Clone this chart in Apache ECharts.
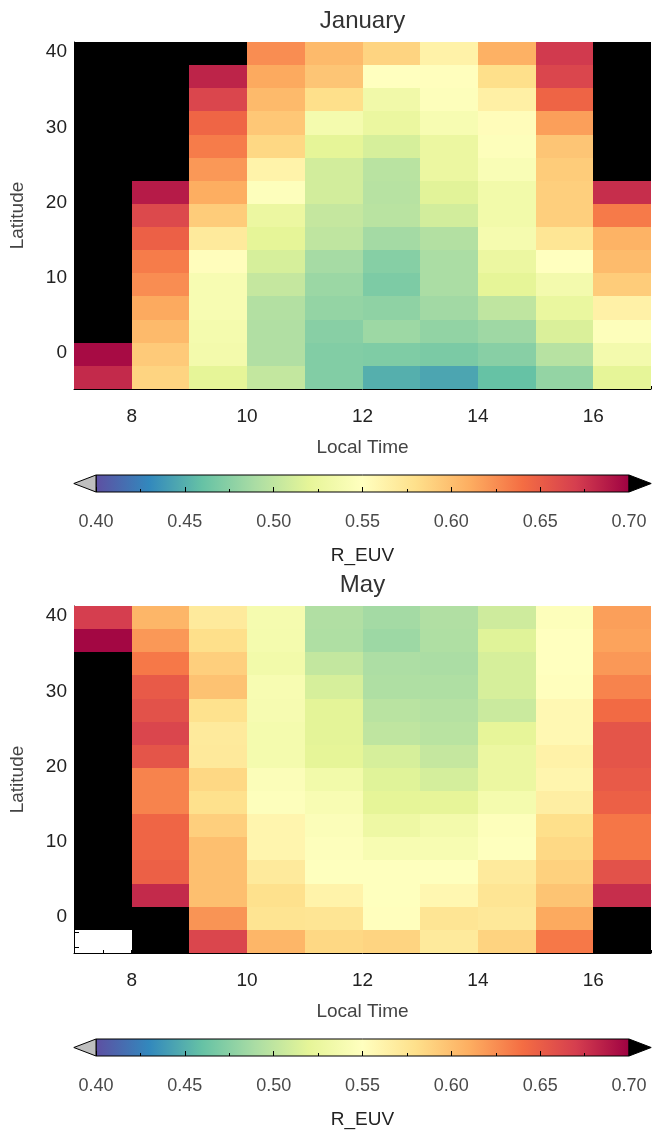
<!DOCTYPE html>
<html>
<head>
<meta charset="utf-8">
<script src="https://cdn.jsdelivr.net/npm/echarts@6/dist/echarts.min.js"></script>
<style>
html,body{margin:0;padding:0;background:#fff;}
#chart{width:652px;height:1130px;}
</style>
</head>
<body>
<div id="chart"></div>
<script>
// ---- data ----
const localTime = [7.5, 8.5, 9.5, 10.5, 11.5, 12.5, 13.5, 14.5, 15.5, 16.5];
// latitude bin centres, top row first
const latitude = [39.81, 36.74, 33.67, 30.59, 27.52, 24.45, 21.37, 18.30, 15.23, 12.16, 9.08, 6.01, 2.94, -0.14, -3.21];
const xTickLabels = [8, 10, 12, 14, 16];
const yTickLabels = [0, 10, 20, 30, 40];
const titles = ['January', 'May'];
const O = 0.75;   // above colour range (drawn black)
const N = null;   // missing (white)
// R_EUV, rows top->bottom, columns local time 7.5..16.5
const janR = [
  [O, O, O, 0.625, 0.603, 0.587, 0.563, 0.608, 0.672, O],
  [O, O, 0.683, 0.612, 0.596, 0.550, 0.551, 0.580, 0.665, O],
  [O, O, 0.665, 0.603, 0.580, 0.533, 0.547, 0.565, 0.646, O],
  [O, O, 0.645, 0.595, 0.537, 0.526, 0.540, 0.553, 0.617, O],
  [O, O, 0.633, 0.585, 0.520, 0.512, 0.527, 0.547, 0.596, O],
  [O, O, 0.620, 0.562, 0.510, 0.497, 0.527, 0.543, 0.592, O],
  [O, 0.687, 0.610, 0.548, 0.510, 0.496, 0.518, 0.534, 0.590, 0.678],
  [O, 0.663, 0.592, 0.527, 0.503, 0.497, 0.510, 0.534, 0.590, 0.634],
  [O, 0.648, 0.570, 0.520, 0.500, 0.487, 0.494, 0.538, 0.574, 0.607],
  [O, 0.633, 0.552, 0.512, 0.488, 0.474, 0.490, 0.527, 0.550, 0.602],
  [O, 0.625, 0.540, 0.503, 0.483, 0.470, 0.490, 0.520, 0.536, 0.592],
  [O, 0.612, 0.540, 0.494, 0.480, 0.478, 0.486, 0.500, 0.525, 0.564],
  [O, 0.603, 0.537, 0.493, 0.475, 0.484, 0.479, 0.485, 0.514, 0.547],
  [0.695, 0.593, 0.535, 0.493, 0.472, 0.471, 0.469, 0.475, 0.496, 0.536],
  [0.680, 0.587, 0.520, 0.502, 0.472, 0.450, 0.445, 0.460, 0.480, 0.520]
];
const mayR = [
  [0.670, 0.605, 0.570, 0.538, 0.493, 0.487, 0.493, 0.508, 0.547, 0.617],
  [0.697, 0.620, 0.580, 0.537, 0.492, 0.484, 0.492, 0.517, 0.550, 0.615],
  [O, 0.635, 0.590, 0.534, 0.502, 0.491, 0.490, 0.512, 0.550, 0.620],
  [O, 0.652, 0.598, 0.540, 0.512, 0.492, 0.492, 0.512, 0.551, 0.630],
  [O, 0.657, 0.578, 0.539, 0.519, 0.497, 0.495, 0.506, 0.557, 0.642],
  [O, 0.665, 0.570, 0.537, 0.519, 0.500, 0.497, 0.521, 0.557, 0.655],
  [O, 0.655, 0.571, 0.537, 0.520, 0.512, 0.503, 0.527, 0.563, 0.655],
  [O, 0.630, 0.585, 0.545, 0.534, 0.517, 0.511, 0.527, 0.560, 0.652],
  [O, 0.630, 0.579, 0.548, 0.541, 0.520, 0.521, 0.537, 0.566, 0.648],
  [O, 0.645, 0.590, 0.560, 0.545, 0.529, 0.535, 0.547, 0.580, 0.636],
  [O, 0.645, 0.600, 0.560, 0.548, 0.540, 0.540, 0.549, 0.584, 0.636],
  [O, 0.648, 0.600, 0.570, 0.549, 0.549, 0.549, 0.570, 0.589, 0.657],
  [O, 0.680, 0.600, 0.579, 0.562, 0.549, 0.558, 0.575, 0.597, 0.678],
  [O, O, 0.622, 0.576, 0.575, 0.551, 0.575, 0.572, 0.612, O],
  [N, O, 0.665, 0.605, 0.585, 0.587, 0.570, 0.588, 0.635, O]
];
const spectralR = ['#5e4fa2', '#3288bd', '#66c2a5', '#abdda4', '#e6f598', '#ffffbf',
                   '#fee08b', '#fdae61', '#f46d43', '#d53e4f', '#9e0142'];
const vMin = 0.40, vMax = 0.70;
const underTip = 0.3875, overTip = 0.7125;

// ---- build ----
const FONT = 'Liberation Sans';
function cells(mat) {
  const out = [];
  mat.forEach((row, i) => row.forEach((v, j) => {
    if (v !== null) out.push([localTime[j], latitude[i], v]);
  }));
  return out;
}
const dx = Math.abs(localTime[1] - localTime[0]);
const dy = Math.abs(latitude[0] - latitude[1]);
function cellItem(params, api) {
  const x = api.value(0), y = api.value(1);
  const p0 = api.coord([x - dx / 2, y + dy / 2]);
  const p1 = api.coord([x + dx / 2, y - dy / 2]);
  const x0 = Math.round(p0[0]), y0 = Math.round(p0[1]);
  const x1 = Math.round(p1[0]), y1 = Math.round(p1[1]);
  return {
    type: 'rect',
    shape: { x: x0, y: y0, width: x1 - x0, height: y1 - y0 },
    style: { fill: api.visual('color'), stroke: null, lineWidth: 0 }
  };
}
function cbarItem(params, api) {
  const a = api.coord([vMin, 1]);
  const b = api.coord([vMax, 0]);
  const tl = api.coord([underTip, 0.5]);
  const tr = api.coord([overTip, 0.5]);
  const stops = spectralR.map((c, k) => ({ offset: k / (spectralR.length - 1), color: c }));
  return {
    type: 'group',
    children: [
      { type: 'rect', shape: { x: a[0], y: a[1], width: b[0] - a[0], height: b[1] - a[1] },
        style: { fill: { type: 'linear', x: 0, y: 0, x2: 1, y2: 0, colorStops: stops }, stroke: '#000', lineWidth: 1 } },
      { type: 'polygon', shape: { points: [[a[0], a[1]], [tl[0], tl[1]], [a[0], b[1]]] },
        style: { fill: '#bfbfbf', stroke: '#000', lineWidth: 1 } },
      { type: 'polygon', shape: { points: [[b[0], a[1]], [tr[0], tr[1]], [b[0], b[1]]] },
        style: { fill: '#000', stroke: '#000', lineWidth: 1 } }
    ]
  };
}
const yTickVals = [];
for (let v = -4; v <= 40; v += 2) yTickVals.push(v);
const xTickVals = [];
for (let v = 7; v <= 17; v += 0.5) xTickVals.push(v);

const plotTop = [42, 606];
const grid = [], xAxis = [], yAxis = [], series = [], title = [];
[janR, mayR].forEach((mat, k) => {
  const top = plotTop[k];
  grid.push({ left: 74, width: 577, top: top, height: 347, outerBoundsMode: 'none', containLabel: false });
  grid.push({ left: 96, width: 533, top: top + 433, height: 17, outerBoundsMode: 'none', containLabel: false });
  const gi = k * 2;
  xAxis.push({
    gridIndex: gi, type: 'value', min: 7, max: 17, z: 0,
    axisLine: { show: true, onZero: false, lineStyle: { color: '#000', width: 1 } },
    axisTick: { show: true, inside: true, length: 3, customValues: xTickVals, lineStyle: { color: '#000' } },
    axisLabel: { customValues: xTickLabels, margin: 18, fontSize: 19, color: '#222', fontFamily: FONT },
    splitLine: { show: false },
    name: 'Local Time', nameLocation: 'middle', nameGap: 49,
    nameTextStyle: { fontSize: 19, color: '#444', fontFamily: FONT }
  });
  yAxis.push({
    gridIndex: gi, type: 'value', min: -4.75, max: 41.35, z: 0,
    axisLine: { show: true, onZero: false, lineStyle: { color: '#000', width: 1 } },
    axisTick: { show: true, inside: true, length: 5, customValues: yTickVals, lineStyle: { color: '#000' } },
    axisLabel: { customValues: yTickLabels, margin: 7, fontSize: 19, color: '#222', fontFamily: FONT },
    splitLine: { show: false },
    name: 'Latitude', nameLocation: 'middle', nameGap: 47, nameRotate: 90,
    nameTextStyle: { fontSize: 19, color: '#444', fontFamily: FONT }
  });
  xAxis.push({
    gridIndex: gi + 1, type: 'value', min: vMin, max: vMax, interval: 0.05, z: 10,
    axisLine: { show: false },
    axisTick: { show: true, inside: true, length: 5, lineStyle: { color: '#000' } },
    minorTick: { show: true, splitNumber: 2, length: 3, lineStyle: { color: '#000' } },
    axisLabel: { margin: 21, fontSize: 18, color: '#4a4a4a', fontFamily: FONT,
                 formatter: v => v.toFixed(2), showMinLabel: true, showMaxLabel: true },
    splitLine: { show: false }, minorSplitLine: { show: false },
    name: 'R_EUV', nameLocation: 'middle', nameGap: 54,
    nameTextStyle: { fontSize: 19, color: '#222', fontFamily: FONT }
  });
  yAxis.push({
    gridIndex: gi + 1, type: 'value', min: 0, max: 1, show: false
  });
  series.push({
    type: 'custom', xAxisIndex: gi, yAxisIndex: gi, renderItem: cellItem,
    data: cells(mat), encode: { x: 0, y: 1 }, z: 2, silent: true
  });
  series.push({
    type: 'custom', xAxisIndex: gi + 1, yAxisIndex: gi + 1, renderItem: cbarItem,
    data: [[vMin, 0]], z: 2, silent: true, clip: false
  });
  title.push({
    text: titles[k], left: 362.5, top: top - 33, textAlign: 'center', padding: 0,
    textStyle: { fontSize: 24, fontWeight: 'normal', color: '#333', fontFamily: FONT }
  });
});

const chart = echarts.init(document.getElementById('chart'), null, { renderer: 'canvas' });
chart.setOption({
  animation: false,
  backgroundColor: '#fff',
  title: title,
  grid: grid,
  xAxis: xAxis,
  yAxis: yAxis,
  visualMap: [{
    show: false, type: 'continuous', min: vMin, max: vMax, dimension: 2,
    range: [vMin, vMax - 1e-6],
    seriesIndex: [0, 2],
    inRange: { color: spectralR },
    outOfRange: { color: '#000' }
  }],
  series: series
});
</script>
</body>
</html>
